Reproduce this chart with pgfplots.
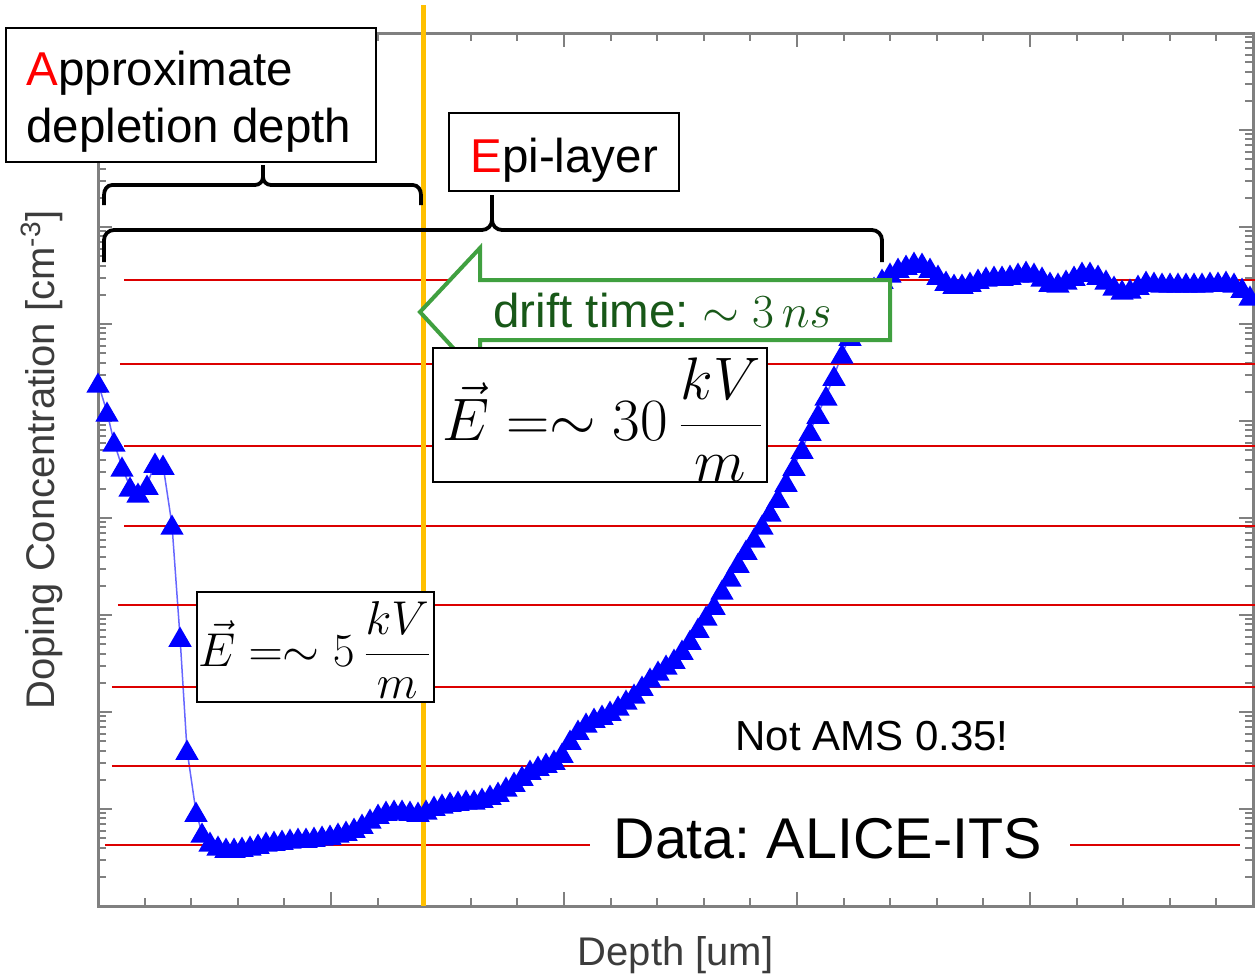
\RequirePackage{fix-cm}
\documentclass[border=0pt]{standalone}
\usepackage{pgfplots}
\pgfplotsset{compat=1.18}
\usepackage{pgfplotstable}
\usepackage{fontspec}
\setmainfont{Liberation Sans}
\definecolor{axgray}{RGB}{128,128,128}
\definecolor{gold}{RGB}{255,192,0}
\definecolor{arrowgreen}{RGB}{64,160,64}
\definecolor{textgreen}{RGB}{24,88,24}
\definecolor{linered}{RGB}{220,0,0}
\definecolor{labgray}{RGB}{60,60,60}

% depth [um] vs log10(doping concentration [cm^-3])
\pgfplotstableread{
x y
0.000 17.392
0.193 17.093
0.343 16.784
0.515 16.526
0.687 16.320
0.858 16.258
1.052 16.340
1.223 16.567
1.395 16.546
1.588 15.928
1.760 14.773
1.910 13.608
2.103 12.969
2.232 12.753
2.403 12.660
2.575 12.619
2.747 12.598
2.919 12.598
3.090 12.608
3.262 12.619
3.434 12.639
3.605 12.660
3.777 12.670
3.949 12.680
4.120 12.691
4.292 12.701
4.464 12.701
4.635 12.711
4.807 12.722
4.979 12.732
5.150 12.753
5.322 12.773
5.494 12.804
5.665 12.845
5.837 12.897
6.009 12.948
6.180 12.979
6.352 12.990
6.524 12.990
6.695 12.979
6.867 12.969
7.039 12.990
7.210 13.031
7.382 13.052
7.554 13.072
7.725 13.082
7.897 13.093
8.069 13.093
8.240 13.113
8.412 13.144
8.584 13.175
8.755 13.227
8.927 13.278
9.099 13.340
9.270 13.402
9.442 13.443
9.614 13.474
9.785 13.505
9.957 13.577
10.129 13.711
10.300 13.814
10.472 13.887
10.644 13.938
10.815 13.969
10.987 14.010
11.159 14.062
11.330 14.124
11.502 14.186
11.674 14.268
11.845 14.351
12.017 14.423
12.189 14.485
12.360 14.546
12.532 14.639
12.704 14.742
12.875 14.866
13.047 14.990
13.219 15.103
13.390 15.258
13.562 15.392
13.734 15.536
13.905 15.670
14.077 15.794
14.249 15.928
14.420 16.062
14.592 16.206
14.764 16.371
14.935 16.536
15.107 16.711
15.279 16.897
15.450 17.072
15.622 17.258
15.794 17.464
15.965 17.691
16.137 17.876
16.309 18.062
16.480 18.247
16.652 18.381
16.824 18.464
16.995 18.526
17.167 18.577
17.339 18.608
17.510 18.639
17.682 18.629
17.854 18.577
18.025 18.505
18.197 18.443
18.369 18.412
18.540 18.412
18.712 18.433
18.884 18.464
19.055 18.485
19.227 18.495
19.399 18.495
19.570 18.505
19.742 18.526
19.914 18.546
20.085 18.526
20.257 18.485
20.429 18.433
20.600 18.423
20.772 18.454
20.944 18.495
21.115 18.536
21.287 18.536
21.459 18.505
21.630 18.454
21.802 18.392
21.974 18.351
22.145 18.361
22.317 18.402
22.489 18.443
22.660 18.433
22.832 18.423
23.004 18.423
23.175 18.423
23.347 18.423
23.519 18.423
23.690 18.423
23.862 18.433
24.034 18.433
24.205 18.443
24.377 18.423
24.549 18.371
24.720 18.289
}\profile

\begin{document}
\frenchspacing
\begin{tikzpicture}
\useasboundingbox (-39.2pt,-28pt) rectangle (462.8pt,362.4pt);
\begin{axis}[
  at={(0,0)}, anchor=south west,
  scale only axis, width=462pt, height=349.2pt,
  xmin=0, xmax=24.785, ymin=12, ymax=21,
  clip=false,
  xtick distance=5, minor x tick num=4,
  ytick={12,13,14,15,16,17,18,19,20,21},
  minor ytick={12.301,12.477,12.602,12.699,12.778,12.845,12.903,12.954,
    13.301,13.477,13.602,13.699,13.778,13.845,13.903,13.954,
    14.301,14.477,14.602,14.699,14.778,14.845,14.903,14.954,
    15.301,15.477,15.602,15.699,15.778,15.845,15.903,15.954,
    16.301,16.477,16.602,16.699,16.778,16.845,16.903,16.954,
    17.301,17.477,17.602,17.699,17.778,17.845,17.903,17.954,
    18.301,18.477,18.602,18.699,18.778,18.845,18.903,18.954,
    19.301,19.477,19.602,19.699,19.778,19.845,19.903,19.954,
    20.301,20.477,20.602,20.699,20.778,20.845,20.903,20.954},
  xticklabels={}, yticklabels={},
  major tick length=5.5pt, minor tick length=3.2pt,
  axis line style={axgray, line width=1.2pt},
  every tick/.style={axgray, line width=0.8pt},
  xlabel={Depth [um]},
  ylabel={Doping Concentration [cm\textsuperscript{-3}]},
  label style={font=\fontsize{16}{19}\selectfont, text=labgray},
  xlabel style={at={(axis description cs:0.5,-0.056)}, anchor=center},
  ylabel style={at={(axis description cs:-0.0485,0.511)}, anchor=center},
]
\addplot[blue!60, line width=0.6pt, mark=triangle*, mark size=4.8pt,
  mark options={solid, fill=blue, draw=blue, yshift=-1.2pt}] table[x=x, y=y] {\profile};
% red guide lines
\addplot[linered, line width=0.8pt] coordinates {(0.558,18.454) (24.83,18.454)};
\addplot[linered, line width=0.8pt] coordinates {(0.472,17.588) (24.83,17.588)};
\addplot[linered, line width=0.8pt] coordinates {(0.558,16.742) (24.83,16.742)};
\addplot[linered, line width=0.8pt] coordinates {(0.558,15.918) (24.83,15.918)};
\addplot[linered, line width=0.8pt] coordinates {(0.429,15.103) (24.83,15.103)};
\addplot[linered, line width=0.8pt] coordinates {(0.300,14.258) (24.83,14.258)};
\addplot[linered, line width=0.8pt] coordinates {(0.300,13.443) (24.83,13.443)};
\addplot[linered, line width=0.8pt] coordinates {(0.150,12.629) (10.558,12.629)};
\addplot[linered, line width=0.8pt] coordinates {(20.858,12.629) (24.506,12.629)};
% depletion depth marker
\addplot[gold, line width=2pt] coordinates {(6.974,12) (6.974,21.289)};
\end{axis}

\begin{scope}[x=0.4pt,y=0.4pt,shift={(-39.2pt,-28pt)}]
% braces
\draw[line width=1.5pt, black]
  (104,771) -- (104,781) to[out=90,in=180] (112,791) -- (255,791)
  to[out=0,in=-90] (263,799) -- (263,811) -- (263,799)
  to[out=-90,in=180] (271,791) -- (413,791) to[out=0,in=90] (421,781) -- (421,771);
\draw[line width=1.5pt, black]
  (104,714) -- (104,736) to[out=90,in=180] (114,746) -- (482,746)
  to[out=0,in=-90] (492,756) -- (492,781) -- (492,756)
  to[out=-90,in=180] (502,746) -- (872,746) to[out=0,in=90] (882,736) -- (882,714);
% boxes
\draw[black, line width=0.8pt, fill=white] (6,814) rectangle (376,948);
\node[anchor=base west, inner sep=0pt, font=\fontsize{19}{22.8}\selectfont] at (26,891) {\textcolor{red}{A}pproximate};
\node[anchor=base west, inner sep=0pt, font=\fontsize{19}{22.8}\selectfont] at (26,834) {depletion depth};
\draw[black, line width=0.8pt, fill=white] (449,785) rectangle (679,863);
\node[anchor=base west, inner sep=0pt, font=\fontsize{19}{22.8}\selectfont] at (470,804) {\textcolor{red}{E}pi-layer};
% drift arrow
\draw[arrowgreen, line width=1.6pt, fill=white, line join=miter]
  (420,664) -- (480,728) -- (480,696) -- (890,696) -- (890,636) -- (480,636) -- (480,599) -- cycle;
\node[anchor=base west, inner sep=0pt, text=textgreen, font=\fontsize{19}{22.8}\selectfont] at (493,649) {drift time: $\sim 3\,ns$};
% field boxes
\draw[black, line width=0.8pt, fill=white] (433,494) rectangle (767,628);
\node[anchor=center, inner sep=0pt, font=\fontsize{24}{28}\selectfont] at (603,556) {$\vec{E} =\sim 30\,{\displaystyle\frac{kV}{m}}$};
\draw[black, line width=0.8pt, fill=white] (197,274) rectangle (434,384);
\node[anchor=center, inner sep=0pt, font=\fontsize{19}{23}\selectfont] at (315,326) {$\vec{E} =\sim 5\,{\displaystyle\frac{kV}{m}}$};
% notes
\node[anchor=base west, inner sep=0pt, font=\fontsize{16.8}{20}\selectfont] at (735,226) {Not AMS 0.35!};
\node[anchor=base west, inner sep=0pt, font=\fontsize{23}{27}\selectfont] at (613,118) {Data: ALICE-ITS};
\end{scope}
\end{tikzpicture}
\end{document}
